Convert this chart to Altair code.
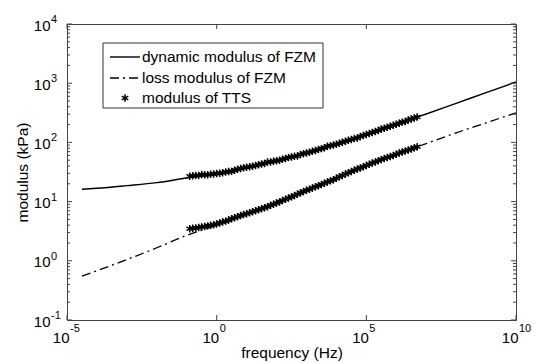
import altair as alt
import pandas as pd

# ---- data ----
line_freq = [3.16e-5, 1e-4, 1e-3, 1e-2, 0.1, 1, 10, 100, 1e3, 1e4, 1e5, 1e6, 1e7, 1e8, 1e9, 1e10]
dynamic_fzm = [16.2, 16.8, 18.6, 20.9, 25.1, 29.5, 38.0, 49.0, 66.0, 93.0, 135, 204, 302, 457, 692, 1047]
loss_fzm = [0.55, 0.68, 1.05, 1.66, 2.69, 3.98, 6.17, 9.77, 15.5, 25.1, 40.7, 63.0, 95.5, 145, 214, 316]

tts_freq = [0.126, 0.2, 0.316, 0.5, 0.794, 1.26, 2.0, 3.16, 5.0, 7.94,
            12.6, 20, 31.6, 50, 79.4, 126, 200, 316, 500, 794,
            1260, 2000, 3160, 5000, 7940, 1.26e4, 2.0e4, 3.16e4, 5.0e4, 7.94e4,
            1.26e5, 2.0e5, 3.16e5, 5.0e5, 7.94e5, 1.26e6, 2.0e6, 3.16e6, 5.0e6]
tts_dynamic = [26.9, 27.5, 28.6, 28.5, 29.2, 30.2, 31.6, 32.4, 35.1, 37.2,
               38.9, 40.7, 43.2, 46.8, 47.9, 50.1, 53.7, 56.9, 59.1, 64.6,
               68.4, 73.3, 78.5, 86.0, 90.2, 96.6, 104.7, 112.2, 119.0, 130.3,
               141.3, 153.1, 169.0, 179.9, 195.0, 211.3, 226.0, 248.3, 269.2]
tts_loss = [3.47, 3.59, 3.72, 3.89, 4.07, 4.37, 4.68, 5.13, 5.56, 6.03,
            6.46, 7.00, 7.59, 8.22, 9.02, 9.89, 10.96, 12.02, 13.34, 14.79,
            16.22, 17.78, 19.50, 21.38, 23.44, 26.30, 29.17, 32.36, 35.48, 38.90,
            42.66, 46.77, 51.29, 55.59, 60.26, 66.07, 71.61, 77.62, 84.14]

# second (overlapping) set of TTS points between the first ones
tts_freq_b = [0.158, 0.251, 0.398, 0.631, 1.0, 1.58, 2.51, 3.98, 6.31, 10.0,
              15.8, 25.1, 39.8, 63.1, 100, 158, 251, 398, 631, 1000,
              1580, 2510, 3980, 6310, 1.0e4, 1.58e4, 2.51e4, 3.98e4, 6.31e4, 1.0e5,
              1.58e5, 2.51e5, 3.98e5, 6.31e5, 1.0e6, 1.58e6, 2.51e6, 3.98e6]
tts_dynamic_b = [27.4, 27.6, 28.3, 28.9, 29.9, 30.7, 32.3, 34.0, 36.2, 38.0,
                 39.6, 42.0, 44.2, 46.6, 49.2, 51.8, 55.5, 58.4, 62.6, 66.2,
                 70.6, 76.0, 81.2, 87.7, 93.2, 100.5, 108.4, 116.2, 125.9, 135.5,
                 147.0, 159.5, 173.0, 187.4, 203.2, 220.0, 238.6, 258.0]
tts_loss_b = [3.55, 3.66, 3.80, 3.98, 4.20, 4.52, 4.90, 5.35, 5.80, 6.25,
              6.72, 7.30, 7.90, 8.65, 9.45, 10.40, 11.50, 12.65, 14.05, 15.50,
              17.00, 18.60, 20.40, 22.40, 24.80, 27.70, 30.80, 33.90, 37.10, 40.70,
              44.70, 49.00, 53.40, 57.90, 63.10, 68.70, 74.50, 80.80]

x_ticks = [1e-5, 1, 1e5, 1e10]
x_exponents = ["-5", "0", "5", "10"]
y_ticks = [0.1, 1, 10, 100, 1000, 10000]
y_exponents = ["-1", "0", "1", "2", "3", "4"]
y_minor = [m * d for d in [0.1, 1, 10, 100, 1000] for m in range(2, 10)]

legend_labels = ["dynamic modulus of FZM", "loss modulus of FZM", "modulus of TTS"]

W, H = 449, 296
FONT = "Liberation Sans"
STAR = "M0,-1L0,1M-0.87,-0.5L0.87,0.5M-0.87,0.5L0.87,-0.5"
FRAME = "#444444"

xs = alt.Scale(type="log", domain=[1e-5, 1e10], nice=False)
ys = alt.Scale(type="log", domain=[0.1, 1e4], nice=False)

lines_df = pd.DataFrame({"f": line_freq, "dyn": dynamic_fzm, "loss": loss_fzm})
tts_df = pd.concat([
    pd.DataFrame({"f": tts_freq, "dyn": tts_dynamic, "loss": tts_loss}),
    pd.DataFrame({"f": tts_freq_b, "dyn": tts_dynamic_b, "loss": tts_loss_b}),
])

x_enc = alt.X("f:Q", scale=xs, axis=alt.Axis(
    values=x_ticks, labelExpr="'10'", labelAlign="right", labelOffset=2,
    title="frequency (Hz)", titleX=W / 2, titleY=37, titleBaseline="alphabetic",
    labelBaseline="top", labelPadding=10, labelFlush=False, labelOverlap=False))

y_axis = alt.Axis(values=y_ticks, labelExpr="'10'",
                  title="modulus (kPa)", titleX=-45, titleY=H / 2, titleBaseline="middle",
                  titleAngle=270, labelPadding=17, labelFlush=False, labelOverlap=False,
                  labelBaseline="middle", labelAlign="right", labelOffset=1)

dyn_line = alt.Chart(lines_df).mark_line(color="black", strokeWidth=1.4, interpolate="monotone").encode(
    x=x_enc, y=alt.Y("dyn:Q", scale=ys, axis=y_axis))
loss_line = alt.Chart(lines_df).mark_line(color="black", strokeWidth=1.3, strokeDash=[9, 4, 2, 4],
                                          interpolate="monotone").encode(
    x=alt.X("f:Q", scale=xs), y=alt.Y("loss:Q", scale=ys))

star_kw = dict(shape=STAR, size=56, filled=False, stroke="black", strokeWidth=1.5, opacity=1)
tts_dyn = alt.Chart(tts_df).mark_point(**star_kw).encode(
    x=alt.X("f:Q", scale=xs), y=alt.Y("dyn:Q", scale=ys))
tts_loss_l = alt.Chart(tts_df).mark_point(**star_kw).encode(
    x=alt.X("f:Q", scale=xs), y=alt.Y("loss:Q", scale=ys))

# exponents of the tick labels
x_exp = alt.Chart(pd.DataFrame({"v": x_ticks, "e": x_exponents})).mark_text(
    align="left", baseline="top", font=FONT, fontSize=11, dx=3, color="black").encode(
    x=alt.X("v:Q", scale=xs), y=alt.value(H + 3), text="e:N")
y_exp = alt.Chart(pd.DataFrame({"v": y_ticks, "e": y_exponents})).mark_text(
    align="left", baseline="middle", font=FONT, fontSize=11, dy=-4, color="black").encode(
    y=alt.Y("v:Q", scale=ys), x=alt.value(-16), text="e:N")

# tick marks (inward, MATLAB style)
ymaj = pd.DataFrame({"v": y_ticks})
ymin = pd.DataFrame({"v": y_minor})
xmaj = pd.DataFrame({"v": x_ticks})
tick_layers = []
for df, ln in [(ymaj, 5), (ymin, 3)]:
    tick_layers.append(alt.Chart(df).mark_rule(color=FRAME, strokeWidth=1).encode(
        y=alt.Y("v:Q", scale=ys), x=alt.value(0), x2=alt.value(ln)))
    tick_layers.append(alt.Chart(df).mark_rule(color=FRAME, strokeWidth=1).encode(
        y=alt.Y("v:Q", scale=ys), x=alt.value(W), x2=alt.value(W - ln)))
tick_layers.append(alt.Chart(xmaj).mark_rule(color=FRAME, strokeWidth=1).encode(
    x=alt.X("v:Q", scale=xs), y=alt.value(H), y2=alt.value(H - 5)))
tick_layers.append(alt.Chart(xmaj).mark_rule(color=FRAME, strokeWidth=1).encode(
    x=alt.X("v:Q", scale=xs), y=alt.value(0), y2=alt.value(5)))

# legend box
one = pd.DataFrame({"a": [0]})
leg_box = alt.Chart(one).mark_rect(fill="white", stroke="#333333", strokeWidth=1).encode(
    x=alt.value(36), x2=alt.value(256), y=alt.value(19), y2=alt.value(84))
leg_l1 = alt.Chart(one).mark_rule(color="black", strokeWidth=1.4).encode(
    x=alt.value(43), x2=alt.value(73), y=alt.value(33))
leg_l2 = alt.Chart(one).mark_rule(color="black", strokeWidth=1.3, strokeDash=[9, 4, 2, 4]).encode(
    x=alt.value(43), x2=alt.value(73), y=alt.value(54))
leg_pt = alt.Chart(one).mark_point(**star_kw).encode(x=alt.value(58), y=alt.value(74))
leg_texts = []
for lab, yy in zip(legend_labels, [33, 54, 74]):
    leg_texts.append(alt.Chart(pd.DataFrame({"label": [lab]})).mark_text(
        align="left", baseline="middle", font=FONT, fontSize=15.5, color="black").encode(
        x=alt.value(75), y=alt.value(yy), text="label:N"))

chart = alt.layer(
    dyn_line, loss_line, tts_dyn, tts_loss_l, x_exp, y_exp, *tick_layers,
    leg_box, leg_l1, leg_l2, leg_pt, *leg_texts
).properties(
    width=W, height=H,
    autosize=alt.AutoSizeParams(type="none"),
    padding={"left": 67, "top": 24, "right": 20, "bottom": 43},
    background="white",
).configure_view(
    stroke=FRAME, strokeWidth=1
).configure_axis(
    domain=False, ticks=False, tickSize=0, grid=False,
    labelFont=FONT, labelFontSize=15, labelColor="black",
    titleFont=FONT, titleFontSize=15.5, titleFontWeight="normal", titleColor="black",
)

chart.save("out.html", embed_options={"renderer": "svg", "actions": False})
